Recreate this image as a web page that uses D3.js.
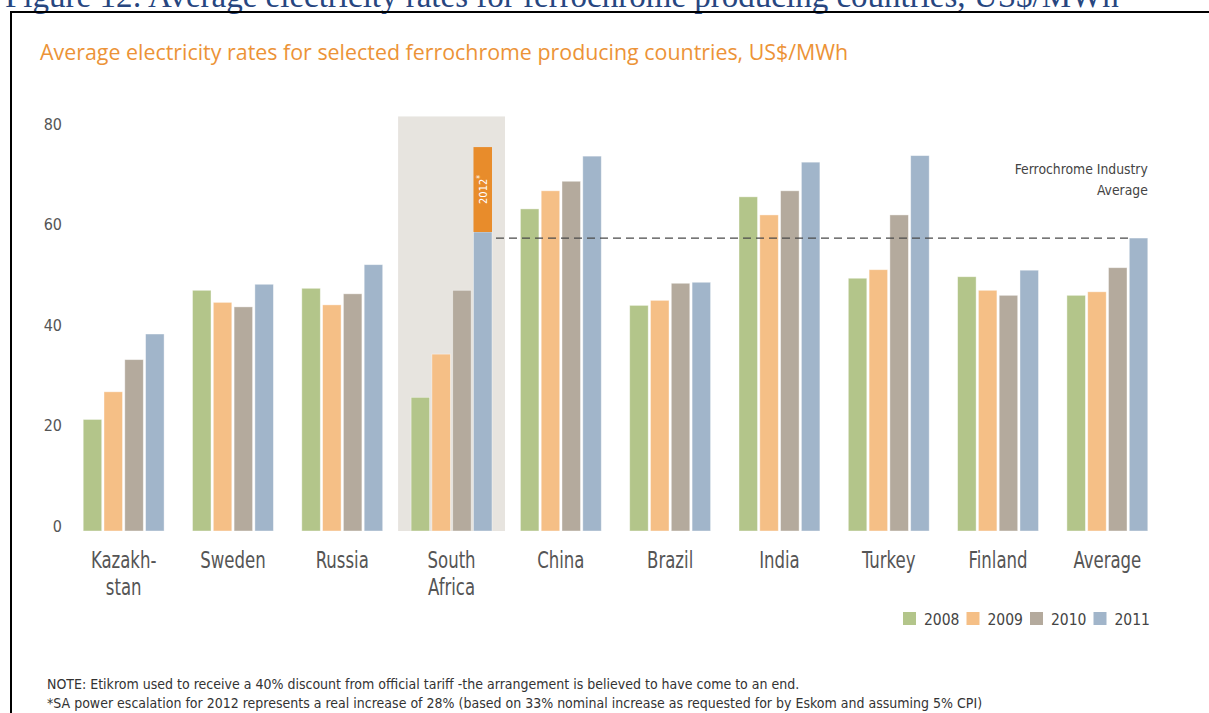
<!DOCTYPE html>
<html>
<head>
<meta charset="utf-8">
<script src="https://cdn.jsdelivr.net/npm/d3@7"></script>
<style>
  html, body { margin: 0; padding: 0; background: #fff; }
  svg { display: block; }
  .cond { font-family: "DejaVu Sans Condensed", "DejaVu Sans", sans-serif; font-stretch: condensed; }
</style>
</head>
<body>
<svg id="chart" width="1209" height="713"></svg>
<script>
(function () {
    "use strict";

    // categories (x axis) and their two-line labels
    const countries = ["Kazakhstan", "Sweden", "Russia", "South Africa", "China",
                       "Brazil", "India", "Turkey", "Finland", "Average"];
    const countryLabels = [["Kazakh-", "stan"], ["Sweden"], ["Russia"], ["South", "Africa"], ["China"],
                           ["Brazil"], ["India"], ["Turkey"], ["Finland"], ["Average"]];
    const years = ["2008", "2009", "2010", "2011"];

    // US$/MWh
    const rates2008 = [22.2, 47.9, 48.3, 26.6, 64.1, 44.9, 66.5, 50.3, 50.6, 46.9];
    const rates2009 = [27.7, 45.5, 45.0, 35.2, 67.7, 45.9, 62.9, 52.0, 47.9, 47.6];
    const rates2010 = [34.1, 44.6, 47.2, 47.9, 69.6, 49.3, 67.7, 62.9, 46.9, 52.4];
    const rates2011 = [39.2, 49.1, 53.0, 59.5, 74.6, 49.5, 73.4, 74.7, 51.9, 58.3];
    const sa2012 = 76.4;          // SA escalation for 2012, stacked on the 2011 bar
    const industryAverage = 58.3; // dashed reference line
    const yTicks = [0, 20, 40, 60, 80];

    const series = [rates2008, rates2009, rates2010, rates2011];
    const colors = ["#b3c58a", "#f5bf86", "#b4aa9d", "#a1b5ca"];

    const svg = d3.select("#chart");

    // page header, mostly cut off at the top
    svg.append("text")
        .attr("x", 5).attr("y", 7)
        .attr("font-family", "Liberation Serif, serif")
        .attr("font-size", 33)
        .attr("fill", "#27467f")
        .text("Figure 12: Average electricity rates for ferrochrome producing countries, US$/MWh");

    // black frame (runs off right and bottom)
    svg.append("path")
        .attr("d", "M11,713V12H1209")
        .attr("fill", "none")
        .attr("stroke", "#000")
        .attr("stroke-width", 2);

    // chart title
    svg.append("text")
        .attr("x", 40).attr("y", 60)
        .attr("font-family", "Open Sans, sans-serif")
        .attr("font-size", 21.4)
        .attr("fill", "#ec9337")
        .text("Average electricity rates for selected ferrochrome producing countries, US$/MWh");

    const x0 = d3.scaleBand()
        .domain(countries)
        .range([69, 1162])
        .paddingInner(0.26)
        .paddingOuter(0.13);

    const x1 = d3.scaleBand()
        .domain(years)
        .range([0, x0.bandwidth()])
        .paddingInner(0.11);

    const y = d3.scaleLinear()
        .domain([0, 80])
        .range([531, 129]);

    // grey highlight behind South Africa
    const saX = x0("South Africa");
    svg.append("rect")
        .attr("x", saX - 13)
        .attr("y", y(82.5))
        .attr("width", x0.bandwidth() + 26)
        .attr("height", y(0) - y(82.5))
        .attr("fill", "#e7e4df");

    // grouped bars
    const groups = svg.append("g").selectAll("g")
        .data(countries)
        .join("g")
        .attr("transform", (d) => `translate(${x0(d)},0)`);

    groups.selectAll("rect")
        .data((d, i) => years.map((yr, j) => ({ year: yr, value: series[j][i], color: colors[j] })))
        .join("rect")
        .attr("x", (d) => x1(d.year))
        .attr("y", (d) => y(d.value))
        .attr("width", x1.bandwidth())
        .attr("height", (d) => y(0) - y(d.value))
        .attr("fill", (d) => d.color)
        .attr("stroke", "#fff")
        .attr("stroke-opacity", 0.5)
        .attr("stroke-width", 0.8);

    // 2012 stacked segment on South Africa
    const sa2011 = rates2011[countries.indexOf("South Africa")];
    const segX = saX + x1("2011");
    svg.append("rect")
        .attr("x", segX)
        .attr("y", y(sa2012))
        .attr("width", x1.bandwidth())
        .attr("height", y(sa2011) - y(sa2012))
        .attr("fill", "#e88c2b");

    const segCx = segX + x1.bandwidth() / 2;
    const segCy = (y(sa2012) + y(sa2011)) / 2;
    const segLabel = svg.append("text")
        .attr("class", "cond")
        .attr("transform", `translate(${segCx + 4},${segCy}) rotate(-90)`)
        .attr("text-anchor", "middle")
        .attr("font-size", 11)
        .attr("fill", "#fff")
        .text("2012");
    segLabel.append("tspan")
        .attr("dy", -4)
        .attr("font-size", 8)
        .text("*");

    // industry average dashed line (drawn over the bars)
    svg.append("line")
        .attr("x1", segX + x1.bandwidth() + 4)
        .attr("x2", x0("Average") + x1("2011"))
        .attr("y1", y(industryAverage))
        .attr("y2", y(industryAverage))
        .attr("stroke", "#4a4a4a")
        .attr("stroke-width", 1.3)
        .attr("stroke-dasharray", "8,5");

    const annot = svg.append("text")
        .attr("class", "cond")
        .attr("text-anchor", "end")
        .attr("font-size", 13.8)
        .attr("fill", "#444");
    annot.append("tspan")
        .attr("x", x0("Average") + x0.bandwidth())
        .attr("y", y(industryAverage) - 64)
        .text("Ferrochrome Industry");
    annot.append("tspan")
        .attr("x", x0("Average") + x0.bandwidth())
        .attr("y", y(industryAverage) - 43)
        .text("Average");

    // y axis: labels only
    const yAxis = svg.append("g")
        .attr("transform", "translate(62,0)")
        .call(d3.axisLeft(y).tickValues(yTicks).tickSize(0).tickPadding(0));
    yAxis.select(".domain").remove();
    yAxis.selectAll("text")
        .attr("class", "cond")
        .attr("dy", 0)
        .attr("font-size", 16)
        .attr("fill", "#555");

    // x axis: country labels, split over two lines, narrowed to match the condensed face
    const xAxis = svg.append("g")
        .attr("transform", `translate(0,${y(0)})`)
        .call(d3.axisBottom(x0).tickSize(0).tickFormat(""));
    xAxis.select(".domain").remove();
    xAxis.selectAll(".tick text")
        .attr("class", "cond")
        .attr("font-size", 23)
        .attr("fill", "#555")
        .attr("transform", "scale(0.8,1)")
        .attr("y", 0)
        .attr("dy", 0)
        .each(function (d, i) {
            d3.select(this).selectAll("tspan")
                .data(countryLabels[i])
                .join("tspan")
                .attr("x", 0)
                .attr("y", (t, k) => 37 + k * 27.5)
                .text((t) => t);
        });

    // legend
    const legend = svg.append("g").attr("transform", "translate(903,612)");
    const item = legend.selectAll("g")
        .data(years)
        .join("g")
        .attr("transform", (d, i) => `translate(${i * 63.5},0)`);
    item.append("rect")
        .attr("width", 13).attr("height", 13)
        .attr("fill", (d, i) => colors[i]);
    item.append("text")
        .attr("class", "cond")
        .attr("x", 21).attr("y", 13)
        .attr("font-size", 15.5)
        .attr("fill", "#444")
        .text((d) => d);

    // notes
    const notes = svg.append("text")
        .attr("class", "cond")
        .attr("font-size", 14)
        .attr("fill", "#333");
    notes.append("tspan")
        .attr("x", 47).attr("y", 689)
        .text("NOTE: Etikrom used to receive a 40% discount from official tariff -the arrangement is believed to have come to an end.");
    notes.append("tspan")
        .attr("x", 47).attr("y", 708)
        .text("*SA power escalation for 2012 represents a real increase of 28% (based on 33% nominal increase as requested for by Eskom and assuming 5% CPI)");
})();
</script>
</body>
</html>
